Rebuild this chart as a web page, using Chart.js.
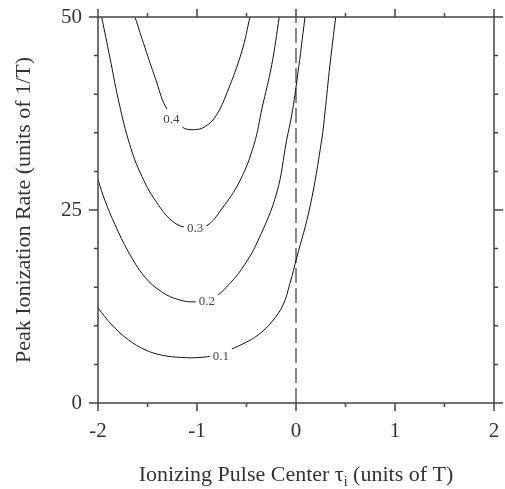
<!DOCTYPE html>
<html>
<head>
<meta charset="utf-8">
<script src="https://cdn.jsdelivr.net/npm/chart.js@4/dist/chart.umd.min.js"></script>
<style>
	html, body { margin: 0; padding: 0; background: #fff; }
	#wrap { width: 505px; height: 489px; }
</style>
</head>
<body>
<div id="wrap"><canvas id="contour" width="505" height="489"></canvas></div>
<script>
'use strict';

// axis ranges and ticks
var xRange = [-2, 2];
var yRange = [0, 50];
var xTickStep = 0.5;
var yTickStep = 5;
var xLabelValues = [-2, -1, 0, 1, 2];
var yLabelValues = [0, 25, 50];

// contour lines
var level1X = [-2, -1.859, -1.694, -1.525, -1.357, -1.155, -0.970, -0.818, -0.667, -0.515, -0.384, -0.245, -0.131, -0.061, 0.007, 0.141, 0.260, 0.293, 0.343, 0.401];
var level1Y = [12.3, 10.1, 8.2, 6.9, 6.2, 5.9, 5.9, 6.2, 6.9, 7.8, 8.8, 10.5, 12.7, 15.5, 18.8, 25.4, 34.1, 37.7, 43.8, 50];
var level2X = [-2, -1.929, -1.828, -1.694, -1.525, -1.357, -1.189, -1.020, -0.838, -0.667, -0.515, -0.381, -0.195, -0.094, -0.043, 0.017, 0.091];
var level2Y = [28.9, 26.2, 23.1, 19.6, 16.3, 14.4, 13.4, 13.1, 13.6, 15.5, 18.0, 21.1, 27.2, 34.1, 37.3, 42.5, 50];
var level3X = [-1.963, -1.879, -1.798, -1.694, -1.576, -1.409, -1.222, -1.051, -0.899, -0.758, -0.566, -0.424, -0.343, -0.245, -0.169];
var level3Y = [50, 44.7, 39.5, 34.1, 29.9, 26.0, 23.3, 22.7, 23.0, 25.0, 28.8, 33.5, 38.2, 43.8, 50];
var level4X = [-1.626, -1.525, -1.419, -1.313, -1.155, -1.037, -0.919, -0.808, -0.697, -0.548, -0.465];
var level4Y = [50, 46.0, 42.0, 38.3, 35.8, 35.4, 35.8, 37.2, 40.2, 45.5, 50];

// inline contour labels
var contourLabels = ['0.1', '0.2', '0.3', '0.4'];
var contourLabelX = [-0.76, -0.90, -1.02, -1.26];
var contourLabelY = [6.1, 13.3, 22.7, 36.8];

// dashed marker at tau_i = 0
var markerX = [0, 0];
var markerY = [0, 50];

function toPoints(xs, ys) {
	return xs.map(function(x, i) { return { x: x, y: ys[i] }; });
}

var serif = '"Liberation Serif", "DejaVu Serif", serif';

function lineSet(xs, ys) {
	return {
		data: toPoints(xs, ys),
		borderColor: '#111',
		borderWidth: 1,
		pointRadius: 0,
		pointHoverRadius: 0,
		fill: false,
		tension: 0.4
	};
}

var datasets = [
	lineSet(level1X, level1Y),
	lineSet(level2X, level2Y),
	lineSet(level3X, level3Y),
	lineSet(level4X, level4Y),
	{
		data: toPoints(markerX, markerY),
		borderColor: '#111',
		borderWidth: 1,
		borderDash: [15, 5],
		pointRadius: 0,
		pointHoverRadius: 0,
		fill: false
	}
];

// contour labels with a white gap in the line
var labelPlugin = {
	id: 'contourLabels',
	afterDatasetsDraw: function(chart) {
		var ctx = chart.ctx;
		var xs = chart.scales.x;
		var ys = chart.scales.y;
		ctx.save();
		ctx.font = '13px ' + serif;
		ctx.textAlign = 'center';
		ctx.textBaseline = 'middle';
		contourLabels.forEach(function(txt, i) {
			var px = xs.getPixelForValue(contourLabelX[i]);
			var py = ys.getPixelForValue(contourLabelY[i]);
			var w = ctx.measureText(txt).width + 6;
			ctx.fillStyle = '#fff';
			ctx.fillRect(px - w / 2, py - 10, w, 20);
			ctx.fillStyle = '#444';
			ctx.fillText(txt, px, py + 1);
		});
		ctx.restore();
	}
};

// frame, outward ticks on all four sides and the x title with subscript
var framePlugin = {
	id: 'frame',
	afterDraw: function(chart) {
		var ctx = chart.ctx;
		var a = chart.chartArea;
		var xs = chart.scales.x;
		var ys = chart.scales.y;
		var v, p, len;
		ctx.save();
		ctx.strokeStyle = '#444';
		ctx.lineWidth = 1.5;
		ctx.strokeRect(a.left, a.top, a.right - a.left, a.bottom - a.top);
		ctx.beginPath();
		for (v = xRange[0]; v <= xRange[1] + 1e-9; v += xTickStep) {
			p = xs.getPixelForValue(v);
			len = xLabelValues.indexOf(v) >= 0 ? 8 : 4;
			ctx.moveTo(p, a.bottom); ctx.lineTo(p, a.bottom + len);
			ctx.moveTo(p, a.top); ctx.lineTo(p, a.top - len);
		}
		for (v = yRange[0]; v <= yRange[1] + 1e-9; v += yTickStep) {
			p = ys.getPixelForValue(v);
			len = yLabelValues.indexOf(v) >= 0 ? 9 : 4;
			ctx.moveTo(a.left, p); ctx.lineTo(a.left - len, p);
			ctx.moveTo(a.right, p); ctx.lineTo(a.right + len, p);
		}
		ctx.stroke();

		// x title: Ionizing Pulse Center tau_i (units of T)
		var part1 = 'Ionizing Pulse Center \u03c4';
		var sub = 'i';
		var part2 = ' (units of T)';
		var big = '22px ' + serif;
		var small = '14px ' + serif;
		ctx.font = big;
		var w1 = ctx.measureText(part1).width;
		var w3 = ctx.measureText(part2).width;
		ctx.font = small;
		var w2 = ctx.measureText(sub).width;
		var cx = (a.left + a.right) / 2;
		var x0 = cx - (w1 + w2 + w3) / 2;
		var base = 481;
		ctx.fillStyle = '#333';
		ctx.textAlign = 'left';
		ctx.textBaseline = 'alphabetic';
		ctx.font = big;
		ctx.fillText(part1, x0, base);
		ctx.font = small;
		ctx.fillText(sub, x0 + w1, base + 5);
		ctx.font = big;
		ctx.fillText(part2, x0 + w1 + w2, base);
		ctx.restore();
	}
};

// invisible tick marks only keep the gap between axis and labels
var hiddenTicks = {
	display: true,
	drawOnChartArea: false,
	drawTicks: true,
	tickLength: 16,
	tickColor: 'rgba(0,0,0,0)'
};

var chart = new Chart(document.getElementById('contour'), {
	type: 'line',
	data: { datasets: datasets },
	options: {
		responsive: false,
		animation: false,
		devicePixelRatio: 1,
		layout: { autoPadding: false, padding: { top: 17, right: 11, left: 0, bottom: 0 } },
		plugins: {
			legend: { display: false },
			tooltip: { enabled: false }
		},
		scales: {
			x: {
				type: 'linear',
				min: xRange[0],
				max: xRange[1],
				border: { display: false },
				grid: hiddenTicks,
				ticks: {
					stepSize: 1,
					autoSkip: false,
					maxRotation: 0,
					padding: 0,
					color: '#333',
					font: { family: serif, size: 21 },
					callback: function(value) {
						return xLabelValues.indexOf(value) >= 0 ? String(value) : '';
					}
				},
				afterFit: function(scale) { scale.height = 86; }
			},
			y: {
				type: 'linear',
				min: yRange[0],
				max: yRange[1],
				border: { display: false },
				grid: hiddenTicks,
				ticks: {
					stepSize: 25,
					autoSkip: false,
					padding: 0,
					color: '#333',
					font: { family: serif, size: 21 },
					callback: function(value) {
						return yLabelValues.indexOf(value) >= 0 ? String(value) : '';
					}
				},
				title: {
					display: true,
					text: 'Peak Ionization Rate (units of 1/T)',
					color: '#333',
					font: { family: serif, size: 22 },
					padding: { top: 11, bottom: 0 }
				},
				afterFit: function(scale) { scale.width = 98; }
			}
		}
	},
	plugins: [labelPlugin, framePlugin]
});
</script>
</body>
</html>
